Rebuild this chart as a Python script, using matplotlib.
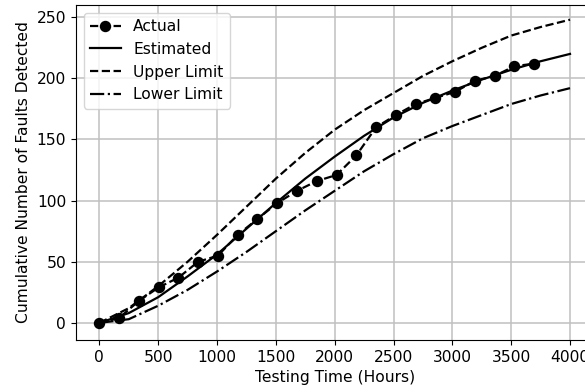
import numpy as np
import matplotlib
matplotlib.use("Agg")
import matplotlib.pyplot as plt

# Datos observados: fallos acumulados por semana (168 h)
t_actual = [0, 168, 336, 504, 672, 840, 1008, 1176, 1344, 1512, 1680, 1848,
            2016, 2184, 2352, 2520, 2688, 2856, 3024, 3192, 3360, 3528, 3696]
faults_actual = [0, 4, 18, 29, 37, 50, 55, 72, 85, 98, 108, 116,
                 121, 137, 160, 170, 179, 184, 189, 198, 202, 210, 212]

# Curvas del modelo leidas cada 250 h
t_model = [0, 250, 500, 750, 1000, 1250, 1500, 1750, 2000, 2250, 2500,
           2750, 3000, 3250, 3500, 3750, 4000]
estimated = [0, 8, 21, 38, 56, 77, 98, 118, 136, 153, 168, 180, 190, 199, 207, 214, 220]
upper = [0, 12, 30, 50, 72, 95, 118, 139, 158, 174, 188, 202, 214, 225, 235, 242, 248]
lower = [0, 3, 14, 27, 42, 58, 75, 92, 108, 124, 138, 151, 161, 170, 179, 186, 192]

plt.rcParams['font.size'] = 11.2

fig = plt.figure(figsize=(5.85, 3.92), dpi=100)
ax = fig.add_axes([0.1296, 0.1327, 0.885, 0.8545])

ax.plot(t_actual, faults_actual, 'k--o', markersize=7.2, linewidth=1.6, label='Actual')
ax.plot(t_model, estimated, 'k-', linewidth=1.6, label='Estimated')
ax.plot(t_model, upper, 'k--', linewidth=1.6, label='Upper Limit')
ax.plot(t_model, lower, 'k-.', linewidth=1.6, label='Lower Limit')

ax.set_xlim(-200, 4200)
ax.set_ylim(-14, 260)
ax.set_xticks([0, 500, 1000, 1500, 2000, 2500, 3000, 3500, 4000])
ax.set_yticks([0, 50, 100, 150, 200, 250])
ax.grid(True, color='#c0c0c0', linewidth=1.1)
ax.set_xlabel('Testing Time (Hours)')
ax.set_ylabel('Cumulative Number of Faults Detected')
ax.legend(loc='upper left')

fig.savefig('out.png', dpi=100)
